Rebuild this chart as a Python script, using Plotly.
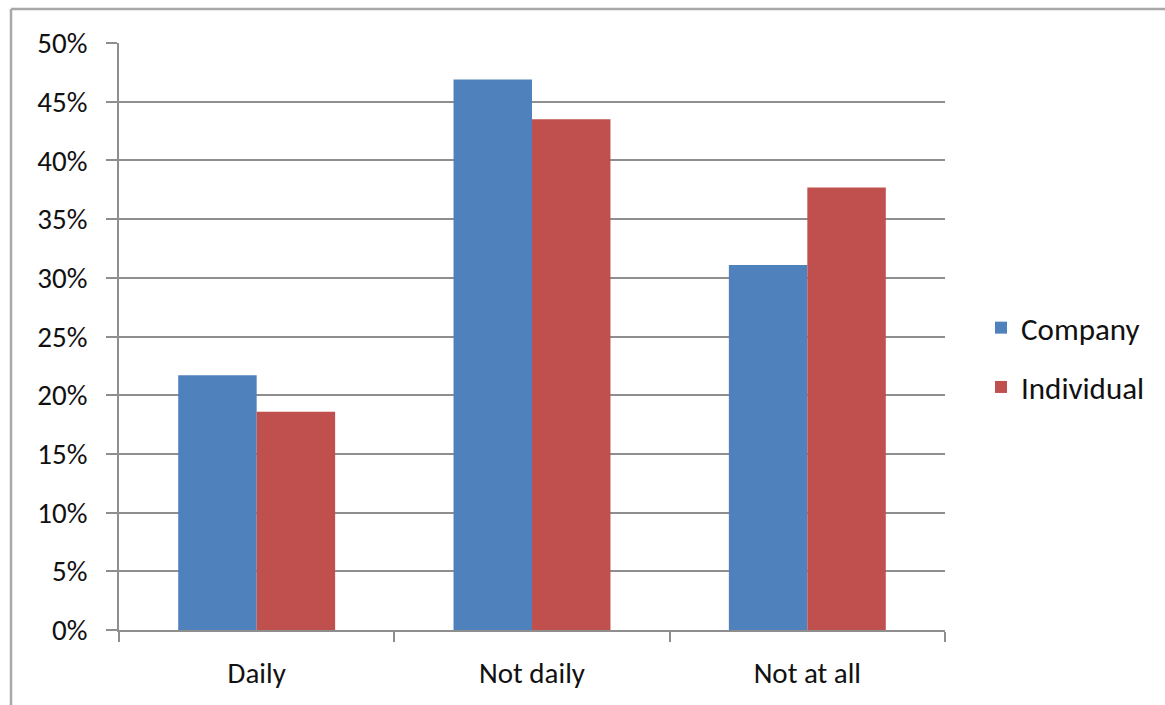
import plotly.graph_objects as go

# Survey responses: share of respondents per frequency
categories = ["Daily", "Not daily", "Not at all"]
company = [0.217, 0.469, 0.311]
individual = [0.186, 0.435, 0.377]
y_ticks = [0, 0.05, 0.10, 0.15, 0.20, 0.25, 0.30, 0.35, 0.40, 0.45, 0.50]
y_tick_labels = ["0%", "5%", "10%", "15%", "20%", "25%", "30%", "35%", "40%", "45%", "50%"]

FONT = "Carlito, Lato, Liberation Sans, sans-serif"
GRID = "#8e8e8e"

fig = go.Figure()
fig.add_trace(go.Bar(name="Company", x=categories, y=company, legendgroup="a",
                     marker=dict(color="#4f81bd", line=dict(width=0))))
fig.add_trace(go.Bar(name="Individual", x=categories, y=individual, legendgroup="b",
                     marker=dict(color="#c0504d", line=dict(width=0))))

L, R, T, B = 119, 220, 43, 75
W, H = 1165, 705
pw = W - L - R
ph = H - T - B

fig.update_layout(
    width=W, height=H,
    margin=dict(l=L, r=R, t=T, b=B),
    paper_bgcolor="white", plot_bgcolor="white",
    barmode="group", bargap=0.43, bargroupgap=0,
    font=dict(family=FONT, size=29, color="#111111"),
    showlegend=True,
    legend=dict(x=(981 - L) / pw, y=(630 - 301) / ph, xanchor="left", yanchor="top",
                font=dict(size=31), itemsizing="constant", tracegroupgap=16,
                itemwidth=30, bgcolor="rgba(0,0,0,0)"),
    xaxis=dict(showline=True, linecolor=GRID, linewidth=1.5,
               ticks="outside", ticklen=10, tickcolor=GRID, tickwidth=1.5,
               tickson="boundaries", showgrid=False, ticklabelstandoff=16),
    yaxis=dict(range=[0, 0.5], tickvals=y_ticks, ticktext=y_tick_labels,
               showline=True, linecolor=GRID, linewidth=1.5,
               showgrid=True, gridcolor=GRID, gridwidth=1.5,
               ticks="outside", ticklen=11, tickcolor=GRID, tickwidth=1.5,
               zeroline=False, ticklabelstandoff=13),
    shapes=[
        # outer chart frame (top and left edges)
        dict(type="line", xref="paper", yref="paper",
             x0=(11 - L) / pw, x1=(W + 5 - L) / pw,
             y0=(630 - 9) / ph, y1=(630 - 9) / ph,
             line=dict(color="#a8a8a8", width=2.5)),
        dict(type="line", xref="paper", yref="paper",
             x0=(11 - L) / pw, x1=(11 - L) / pw,
             y0=(630 - 9) / ph, y1=(630 - 710) / ph,
             line=dict(color="#a8a8a8", width=2.5)),
    ],
)

fig.write_html("out.html")
